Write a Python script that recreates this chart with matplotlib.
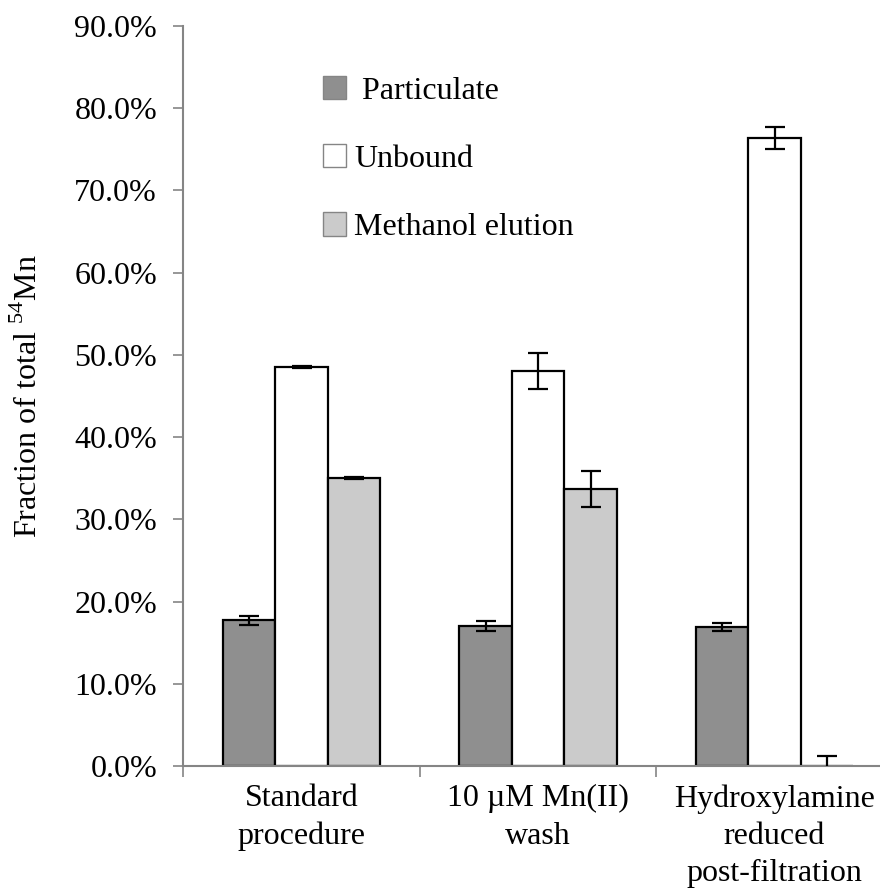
import numpy as np
import matplotlib.pyplot as plt
from matplotlib.patches import Patch
from matplotlib.ticker import PercentFormatter

plt.rcParams["font.family"] = ["Liberation Serif", "DejaVu Serif"]
plt.rcParams["mathtext.fontset"] = "custom"
plt.rcParams["mathtext.rm"] = "Liberation Serif"

# ------------------------------------------------------------------------------
# data (fraction of total, in %)
# ------------------------------------------------------------------------------
categories = ["Standard\nprocedure", "10 \u00b5M Mn(II)\nwash",
              "Hydroxylamine\nreduced\npost-filtration"]
series = [" Particulate", "Unbound", "Methanol elution"]
particulate = [17.7, 17.0, 16.95]
particulate_err = [0.55, 0.6, 0.5]
unbound = [48.5, 48.0, 76.4]
unbound_err = [0.12, 2.2, 1.3]
methanol = [35.0, 33.7, 0.0]
methanol_err = [0.12, 2.2, 1.25]
colors = ["#8f8f8f", "#ffffff", "#cbcbcb"]

FS = 23
GRAY = "#858585"

fig = plt.figure(figsize=(8.8, 8.93), dpi=100)
ax = fig.add_axes([0.2085, 0.1422, 0.806, 0.8287])

x = np.arange(len(categories))
width = 0.222
values = [particulate, unbound, methanol]
errors = [particulate_err, unbound_err, methanol_err]
for i, (vals, errs, col) in enumerate(zip(values, errors, colors)):
    ax.bar(x + (i - 1) * width, vals, width, color=col, edgecolor="black",
           linewidth=1.6, zorder=2)
    ax.errorbar(x + (i - 1) * width, vals, yerr=errs, fmt="none",
                ecolor="black", elinewidth=1.6, capsize=7, capthick=1.6,
                zorder=3)

ax.set_xlim(-0.5, 2.5)
ax.set_ylim(0, 90)
ax.set_yticks(np.arange(0, 91, 10))
ax.yaxis.set_major_formatter(PercentFormatter(decimals=1))

ax.set_xticks(x)
ax.set_xticklabels(categories, fontsize=FS, linespacing=1.38)
ax.set_xticks([-0.5, 0.5, 1.5, 2.5], minor=True)
ax.tick_params(axis="x", which="major", length=0, pad=13)
ax.tick_params(axis="x", which="minor", length=8, width=1.2, color=GRAY,
               direction="out")
ax.tick_params(axis="y", labelsize=FS, length=7, width=1.2, color=GRAY,
               direction="out", pad=12)

for side in ("top", "right"):
    ax.spines[side].set_visible(False)
for side in ("left", "bottom"):
    ax.spines[side].set_color(GRAY)
    ax.spines[side].set_linewidth(1.5)

ax.set_ylabel("Fraction of total $^{54}$Mn", fontsize=FS)
ax.yaxis.set_label_coords(-0.197, 0.5)

handles = [Patch(facecolor=c, edgecolor=GRAY, linewidth=1.0) for c in colors]
ax.legend(handles, series, loc="upper left", bbox_to_anchor=(0.178, 0.95),
          frameon=False, fontsize=FS, handlelength=0.75, handleheight=0.75,
          handletextpad=0.25, labelspacing=1.2, borderaxespad=0)

fig.savefig("out.png", dpi=100)
